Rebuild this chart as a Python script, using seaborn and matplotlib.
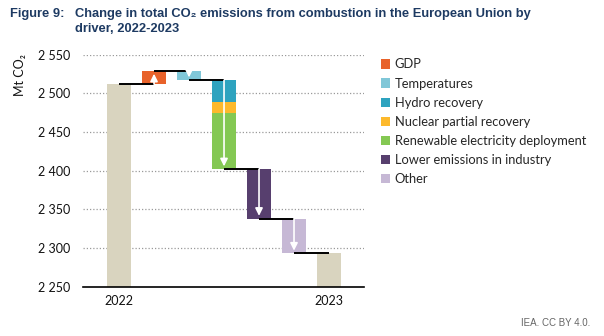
import matplotlib
matplotlib.use("Agg")
import matplotlib.pyplot as plt
import seaborn as sns
from matplotlib.patches import Patch

# ---- data ----
categories = ["2022", "GDP", "Temperatures", "Power", "Industry", "Other", "2023"]
tick_labels = ["2022", "", "", "", "", "", "2023"]
start_value = 2512
drivers = ["GDP", "Temperatures", "Hydro recovery", "Nuclear partial recovery",
           "Renewable electricity deployment", "Lower emissions in industry", "Other"]
driver_slot = ["GDP", "Temperatures", "Power", "Power", "Power", "Industry", "Other"]
driver_change = [17, -12, -28, -15, -72, -64, -45]
driver_colors = ["#E8622A", "#80C7D8", "#2EA3BF", "#FDB92C", "#84C853", "#573F6E", "#C6B8D5"]
total_color = "#D9D4BF"
yticks = [2250, 2300, 2350, 2400, 2450, 2500, 2550]

sns.set_theme(style="white")
plt.rcParams["font.family"] = ["Lato", "DejaVu Sans"]

fig = plt.figure(figsize=(6.04, 3.36), dpi=100)
ax = fig.add_axes([83 / 604, 1 - 286.7 / 336, (364 - 83) / 604, (286.7 - 54.7) / 336])

bw = 0.69
end_value = start_value + sum(driver_change)
bar_kw = dict(order=categories, saturation=1, width=bw, errorbar=None, ax=ax,
              zorder=2, linewidth=0, edgecolor="none")

# totals
sns.barplot(x=[categories[0]], y=[start_value - yticks[0]], bottom=yticks[0],
            color=total_color, **bar_kw)
sns.barplot(x=[categories[-1]], y=[end_value - yticks[0]], bottom=yticks[0],
            color=total_color, **bar_kw)

# drivers (floating)
level = start_value
slot_start = {}
slot_end = {}
for name, slot, ch, col in zip(drivers, driver_slot, driver_change, driver_colors):
    new = level + ch
    slot_start.setdefault(slot, level)
    slot_end[slot] = new
    sns.barplot(x=[slot], y=[abs(ch)], bottom=min(level, new), color=col, **bar_kw)
    level = new

# connectors
levels = [start_value] + [slot_end[s] for s in categories[1:-1]]
for i, lv in enumerate(levels):
    ax.plot([i, i + 1], [lv, lv], color="black", lw=1.4, zorder=4, solid_capstyle="butt")

# arrows
for i, s in enumerate(categories[1:-1], start=1):
    ax.annotate("", xy=(i, slot_end[s]), xytext=(i, slot_start[s]),
                arrowprops=dict(arrowstyle="-|>", color="white", lw=1.2,
                                mutation_scale=11, shrinkA=0, shrinkB=2),
                zorder=5)

ax.set_xlim(-1.03, 7.0)
ax.set_ylim(yticks[0], yticks[-1])
ax.set_yticks(yticks)
ax.set_yticklabels([f"{v:,}".replace(",", " ") for v in yticks], fontsize=9, color="#111111")
ax.set_xticks(range(len(categories)))
ax.set_xticklabels(tick_labels, fontsize=9, color="#111111")
ax.tick_params(axis="y", length=0, pad=9)
ax.tick_params(axis="x", length=0, pad=6)
ax.set_xlabel("")
ax.set_ylabel("")
for v in yticks[1:]:
    ax.axhline(v, color="#9a9a9a", lw=0.9, ls=(0, (1, 1.6)), zorder=1)
for sp in ["top", "left", "right"]:
    ax.spines[sp].set_visible(False)
ax.spines["bottom"].set_color("black")
ax.spines["bottom"].set_linewidth(1.2)
ax.spines["bottom"].set_zorder(6)

# y label
fig.text(20 / 604, 1 - 75 / 336, "Mt CO₂", rotation=90, ha="center", va="center",
         fontsize=9, color="#111111")

# legend
handles = [Patch(facecolor=c, edgecolor="none", label=l) for l, c in zip(drivers, driver_colors)]
fig.legend(handles=handles, loc="upper left", bbox_to_anchor=(381 / 604, 1 - 58.5 / 336),
           frameon=False, fontsize=9.3, handlelength=0.72, handleheight=0.72,
           handletextpad=0.35, labelspacing=0.55, borderaxespad=0, borderpad=0)

# title
title_col = "#1D3A62"
tfam = ["Liberation Sans", "DejaVu Sans"]
tsize = 9.3
fig.text(10 / 604, 1 - 13.5 / 336, "Figure 9:", ha="left", va="center", fontsize=tsize,
         fontweight="bold", color=title_col, family=tfam)
fig.text(75 / 604, 1 - 13.5 / 336,
         "Change in total CO₂ emissions from combustion in the European Union by",
         ha="left", va="center", fontsize=tsize, fontweight="bold", color=title_col,
         family=tfam)
fig.text(75 / 604, 1 - 29.5 / 336, "driver, 2022-2023", ha="left", va="center", fontsize=tsize,
         fontweight="bold", color=title_col, family=tfam)

fig.text(590 / 604, 1 - 323 / 336, "IEA. CC BY 4.0.", ha="right", va="center", fontsize=7,
         color="#666666", family=["Liberation Sans", "DejaVu Sans"])

fig.savefig("out.png", dpi=100)
